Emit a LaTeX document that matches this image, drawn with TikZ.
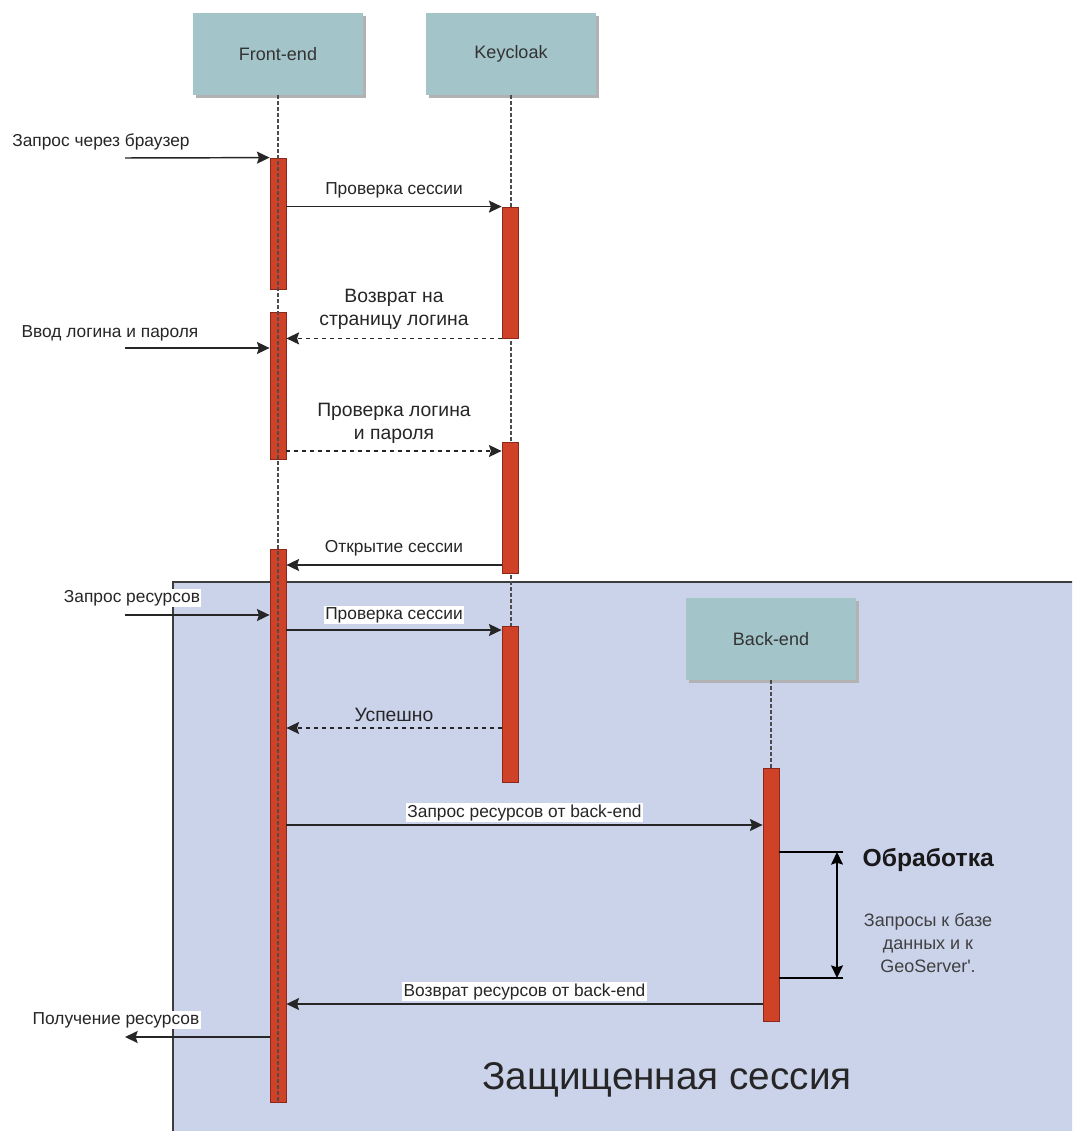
\documentclass[tikz,border=0pt]{standalone}
\usepackage{fontspec}
\setmainfont{Liberation Sans}
\usetikzlibrary{arrows.meta,shadows}
\definecolor{actorfill}{RGB}{163,196,200}
\definecolor{barfill}{RGB}{208,66,40}
\definecolor{bardraw}{RGB}{140,40,25}
\definecolor{zonefill}{RGB}{203,211,235}
\definecolor{zonedraw}{RGB}{60,60,60}
\tikzset{
  >={Stealth[length=9.5pt,width=9pt,inset=1.5pt]},
  actor/.style={fill=actorfill, minimum width=127.5pt, minimum height=61.5pt,
    font=\fontsize{13.5}{16}\selectfont, text=black!80,
    drop shadow={shadow xshift=2.25pt, shadow yshift=-2.25pt, fill=black!30, opacity=1}},
  bar/.style={draw=bardraw, fill=barfill, minimum width=12pt, minimum height=#1*0.75pt,
    inner sep=0pt, line width=0.6pt},
  life/.style={draw=black!70, dash pattern=on 2.5pt off 2pt, line width=0.8pt},
  msg/.style={->, line width=1.1pt, draw=black!85},
  ret/.style={msg, dash pattern=on 3pt off 3pt},
  lbl/.style={font=\fontsize{13}{15}\selectfont, text=black!85, inner sep=1pt},
  lblw/.style={lbl, fill=white},
  lblbig/.style={font=\fontsize{14.5}{17}\selectfont, text=black!85, align=center, inner sep=1pt}
}
\begin{document}
\begin{tikzpicture}[x=0.75pt,y=-0.75pt]
  \clip (0,0) rectangle (1072,1131);
  \fill[white] (0,0) rectangle (1072,1131);
  \draw[fill=zonefill, draw=zonedraw, line width=0.8pt] (173,582) rectangle (1090,1150);

  \node[actor] (front) at (278,54) {Front-end};
  \node[actor] (keycloak) at (511,54) {Keycloak};
  \node[actor] (backend) at (771,639) {Back-end};

  \draw[life] (keycloak.south) -- (keycloak.south |- 0,782);
  \draw[life] (backend.south) -- (backend.south |- 0,768);

  \node[bar=131] (fe1) at (278,223.5) {};
  \node[bar=147] (fe2) at (278,385.5) {};
  \node[bar=553] (fe3) at (278,825.5) {};
  \node[bar=131] (kc1) at (510,272.5) {};
  \node[bar=131] (kc2) at (510,507.5) {};
  \node[bar=156] (kc3) at (510,704) {};
  \node[bar=253] (be1) at (771,894.5) {};

  \draw[life] (front.south) -- (fe3.south);

  \coordinate (in1) at (125,158);
  \coordinate (in2) at (125,348);
  \coordinate (in3) at (125,615);
  \coordinate (out1) at (125,1037);
  \coordinate (y5) at (0,451);
  \coordinate (y6) at (0,565);
  \coordinate (y8) at (0,630);
  \coordinate (y9) at (0,728);
  \coordinate (y10) at (0,825);
  \coordinate (y11) at (0,1004);

  \draw[msg] (in1) -- (fe1.north west);
  \node[lbl] (lin1) at (101,142) {Запрос через браузер};
  \draw[msg] (fe1.east |- kc1.north) -- node[lbl, above=5pt] {Проверка сессии} (kc1.north west);
  \draw[ret] (kc1.south west) -- node[lblbig, above=5pt] {Возврат на\\страницу логина} (fe2.east |- kc1.south);
  \draw[msg] (in2) -- (fe2.west |- in2);
  \node[lbl] (lin2) at (110,333) {Ввод логина и пароля};
  \draw[ret] (fe2.east |- y5) -- node[lblbig, above=4pt] {Проверка логина\\и пароля} (kc2.west |- y5);
  \draw[msg] (kc2.west |- y6) -- node[lbl, above=5pt] {Открытие сессии} (fe3.east |- y6);
  \draw[msg] (in3) -- (fe3.west |- in3);
  \node[lblw] (lin3) at (132,598) {Запрос ресурсов};
  \draw[msg] (fe3.east |- y8) -- node[lblw, above=4pt] {Проверка сессии} (kc3.west |- y8);
  \draw[ret] (kc3.west |- y9) -- node[lblbig, above=3.5pt] {Успешно} (fe3.east |- y9);
  \draw[msg] (fe3.east |- y10) -- node[lblw, above=1.5pt] {Запрос ресурсов от back-end} (be1.west |- y10);
  \draw[msg] (be1.west |- y11) -- node[lblw, above=1.5pt] {Возврат ресурсов от back-end} (fe3.east |- y11);
  \draw[msg] (fe3.west |- out1) -- (out1);
  \node[lblw] (lout1) at (116,1020) {Получение ресурсов};

  \coordinate (ptop) at (843,852);
  \coordinate (pbot) at (843,978);
  \draw[line width=1pt] (be1.east |- ptop) -- (ptop) (be1.east |- pbot) -- (pbot);
  \draw[<->, line width=1pt] ([xshift=-4.5pt]ptop) -- ([xshift=-4.5pt]pbot);
  \node[anchor=west, font=\bfseries\fontsize{18.5}{22}\selectfont, text=black!90] (proc) at (858,860) {Обработка};
  \node[font=\fontsize{13.5}{17.25}\selectfont, align=center, text=black!75] (procnote) at (928,943)
    {Запросы к базе\\данных и к\\GeoServer\textquotesingle.};

  \node[font=\fontsize{29}{34}\selectfont, text=black!85] (zone) at (667,1080) {Защищенная сессия};
\end{tikzpicture}
\end{document}
